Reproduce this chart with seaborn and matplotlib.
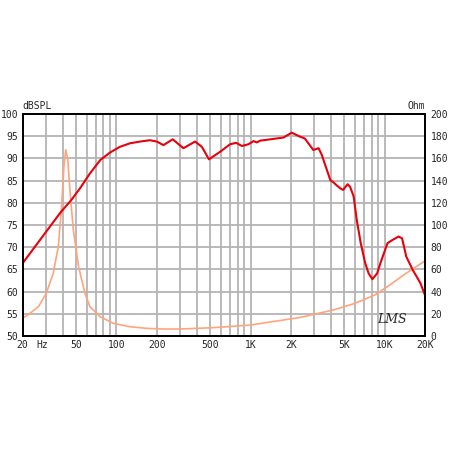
import numpy as np
import pandas as pd
import seaborn as sns
import matplotlib.pyplot as plt

# SPL response (dB)
spl_freq = [20, 38, 46, 53.6, 63.4, 75.6, 89.3, 106, 126, 150, 178, 200, 224, 263, 316, 386,
            434, 490, 594, 704, 782, 864, 966, 1052, 1113, 1180, 1760, 2030, 2340, 2540, 2940,
            3220, 3400, 3940, 4160, 4400, 4660, 4900, 5300, 5530, 5880, 6200, 6640, 7170, 7600,
            8110, 8790, 9300, 10500, 11400, 12700, 13500, 14500, 16200, 18500, 20000]
spl_db = [66.4, 77.7, 80.6, 83.3, 86.6, 89.6, 91.3, 92.6, 93.4, 93.8, 94.1, 93.8, 93.0, 94.3,
          92.3, 93.8, 92.6, 89.8, 91.5, 93.2, 93.5, 92.8, 93.2, 93.9, 93.6, 94.0, 94.7, 95.8,
          94.9, 94.5, 91.9, 92.3, 90.8, 85.1, 84.6, 83.9, 83.3, 82.9, 84.2, 83.6, 81.4, 76.1,
          70.9, 66.4, 64.1, 62.8, 64.1, 66.4, 70.9, 71.6, 72.4, 72.0, 67.9, 64.9, 61.9, 59.2]

# impedance (Ohm)
imp_freq = [20, 22.7, 26.2, 30, 33.8, 36.9, 39, 40.6, 41.9, 43.4, 45, 47.7, 52.2, 58.3, 63.4,
            75.6, 94.5, 126, 168, 224, 298, 527, 1000, 2340, 4160, 6030, 8470, 10500, 14500,
            20000]
imp_ohm = [16.0, 20.5, 26.4, 38.5, 56.6, 80.6, 116.6, 152.7, 167.8, 158.8, 131.7, 95.6, 62.5,
           38.5, 26.4, 17.4, 11.5, 8.4, 6.9, 6.3, 6.3, 7.5, 9.9, 16.7, 23.5, 29.5, 37, 44.5,
           56.6, 67.7]

x_ticks = [20, 28, 50, 100, 200, 500, 1000, 2000, 5000, 10000, 20000]
x_labels = ['20', 'Hz', '50', '100', '200', '500', '1K', '2K', '5K', '10K', '20K']

spl = pd.DataFrame({'freq': spl_freq, 'db': spl_db})
imp = pd.DataFrame({'freq': imp_freq, 'ohm': imp_ohm})

sns.set_style('white')
plt.rcParams['font.family'] = ['DejaVu Sans Mono']

fig = plt.figure(figsize=(4.5, 4.5), dpi=100)
ax = fig.add_axes([0.0504, 0.2533, 0.894, 0.4933])
ax2 = ax.twinx()

ax.set_xscale('log')
ax.set_xlim(20, 20000)
ax.set_ylim(50, 100)
ax2.set_ylim(0, 200)

# log grid, one line per 1-9 step of each decade
grid_f = [f * m for m in (10, 100, 1000, 10000) for f in range(1, 10)]
for g in grid_f:
    if 20 < g < 20000:
        ax2.axvline(g, color='#b4b4b4', lw=1.3, zorder=0)
ax.set_xticks(x_ticks)
ax.set_xticklabels(x_labels)
ax.set_yticks(range(50, 101, 5))
ax2.set_yticks(range(0, 201, 20))
ax.grid(False)
ax2.grid(False)
for v in range(55, 100, 5):
    ax2.axhline((v - 50) * 4, color='#b4b4b4', lw=1.3, zorder=0)
ax.tick_params(which='both', length=0, labelsize=7, pad=3)
ax2.tick_params(length=0, labelsize=7, pad=4)

sns.lineplot(data=imp, x='freq', y='ohm', ax=ax2, color='#ffa47c', lw=1.2)
sns.lineplot(data=spl, x='freq', y='db', ax=ax, color='#e8000b', lw=1.5)
ax.set_zorder(ax2.get_zorder() + 1)
ax.patch.set_visible(False)
for ln in ax.lines + ax2.lines:
    ln.set_solid_joinstyle('round')

for a in (ax, ax2):
    a.set_xlabel('')
    a.set_ylabel('')
    for s in a.spines.values():
        s.set_color('black')
        s.set_linewidth(1.3)

ax.text(0.0, 1.012, 'dBSPL', transform=ax.transAxes, fontsize=7, ha='left', va='bottom')
ax.text(1.0, 1.012, 'Ohm', transform=ax.transAxes, fontsize=7, ha='right', va='bottom')
ax.text(0.955, 0.045, 'LMS', transform=ax.transAxes, fontsize=9, style='italic',
        ha='right', va='bottom', family='DejaVu Serif')

fig.savefig('out.png', dpi=100, facecolor='white')
